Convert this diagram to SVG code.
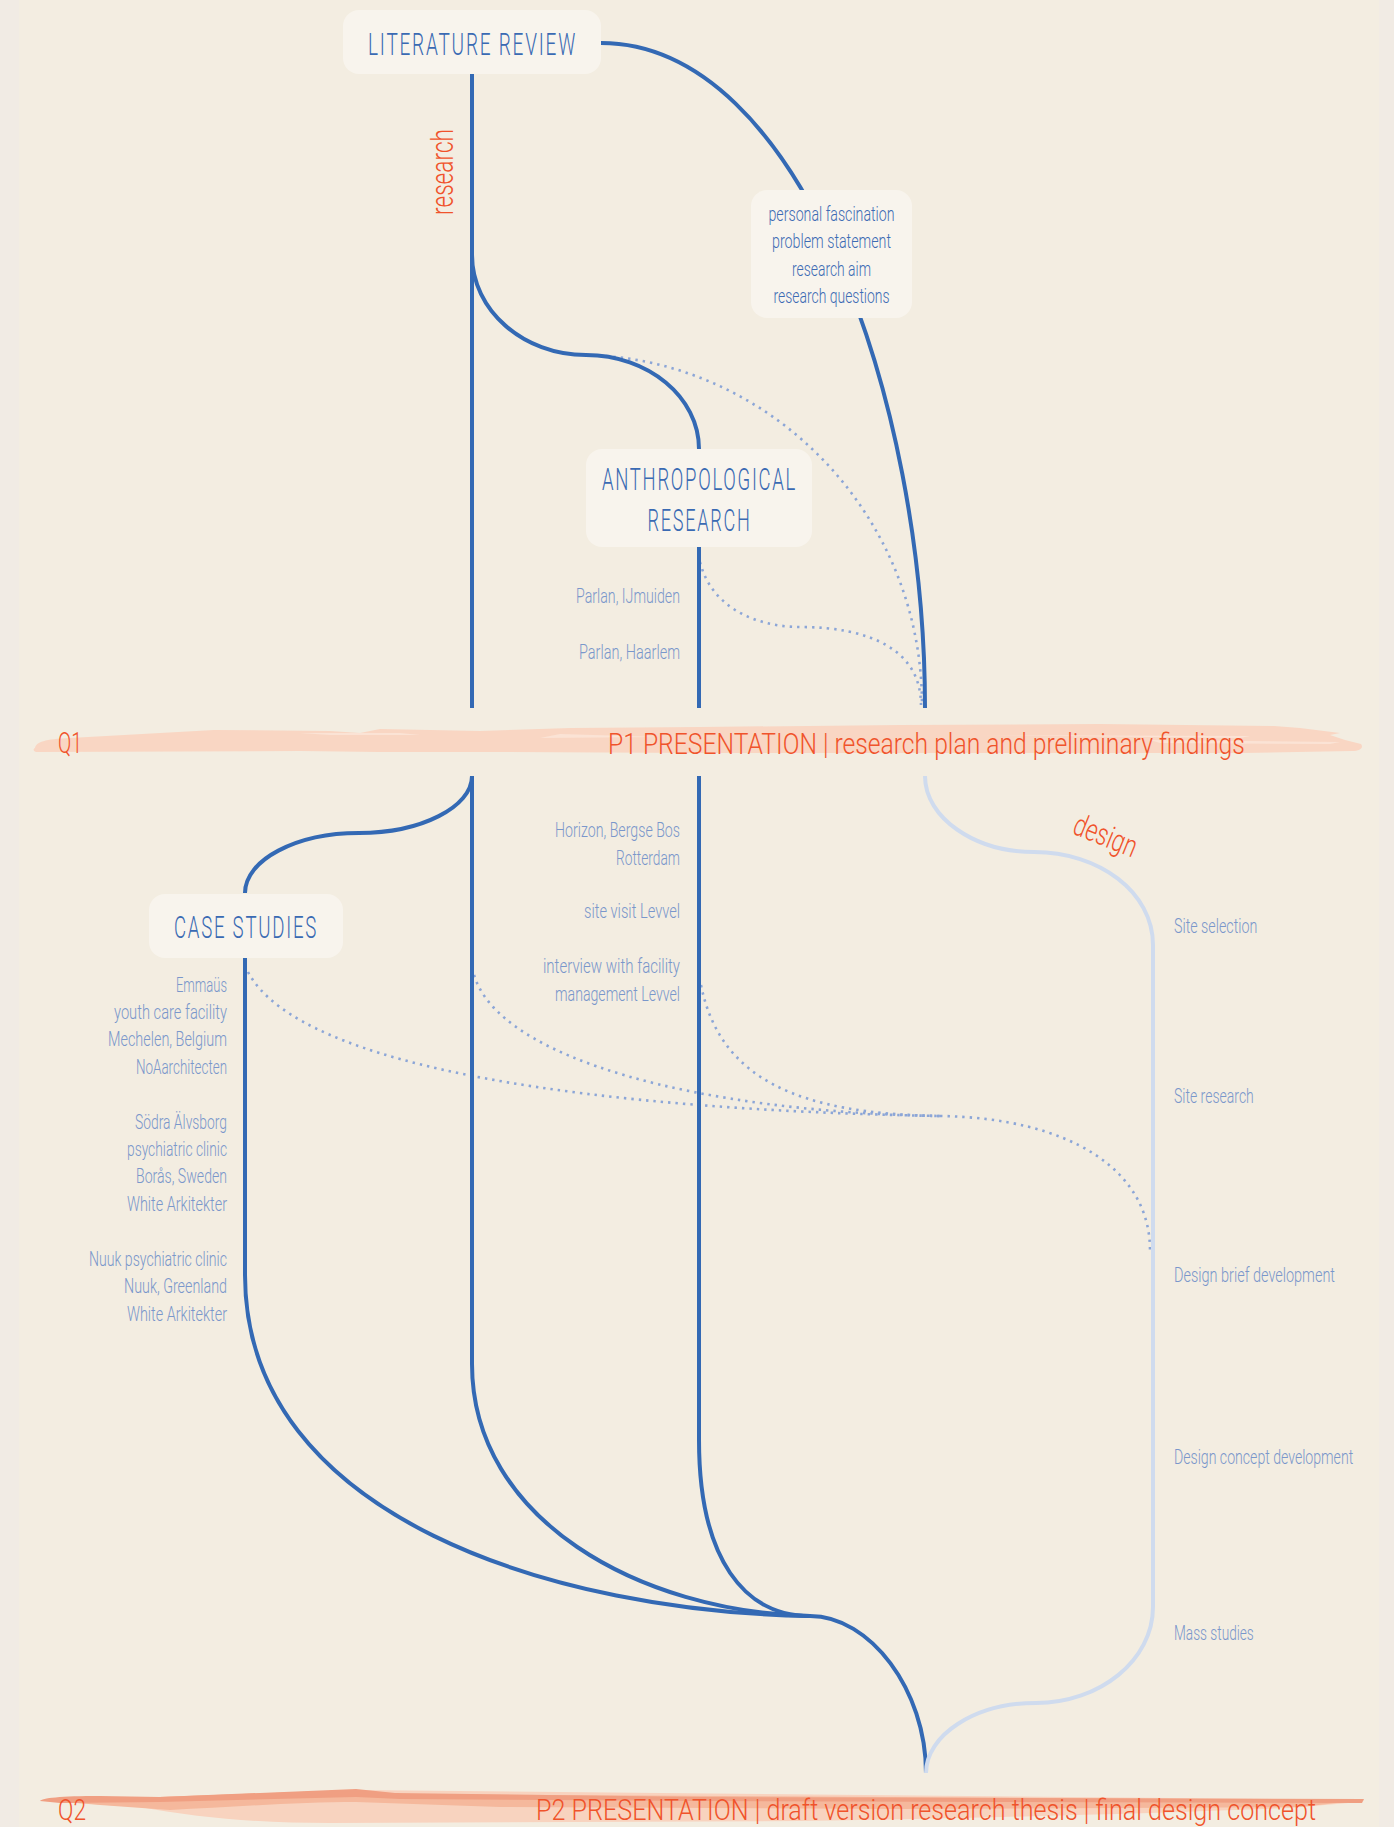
<svg xmlns="http://www.w3.org/2000/svg" width="1394" height="1827" viewBox="0 0 1394 1827">
<style>
.ln{fill:none;stroke:#3369b4;stroke-width:4}
.lt{fill:none;stroke:#cfdbee;stroke-width:4}
.dt{fill:none;stroke:#8ca6d7;stroke-width:2.6;stroke-dasharray:2.4 5}
.box{fill:#f8f4ed}
.f{font-family:Roboto,"Liberation Sans",Arial,sans-serif;font-weight:300}
.ttl{font-size:32px;fill:#3a6ab3;text-anchor:middle;letter-spacing:3px}
.pf{font-size:20px;fill:#3d6bb4;text-anchor:middle}
.lbl{font-size:21px;fill:#7a97cb}
.end{text-anchor:end}
.org{fill:#f0532b}
.q{font-size:30px}
</style>
<rect x="0" y="0" width="1394" height="1827" fill="#f1ebe4"/>
<rect x="19" y="0" width="1360" height="1827" fill="#f3ede1"/>

<g id="bands">
<path fill="#f9d6c3" d="M35,748 C36,742 45,739 70,738 L214,730 L330,731 L360,733 L380,729 L480,731 L571,728 L700,727 L900,725 L1100,724 L1274,726 L1300,728 L1340,733 L1330,735 L1345,740 L1361,744 C1364,748 1360,751 1352,751 L1243,753 L1000,753 L700,753 L490,752 L379,752 L300,751 L36,752 C33,751 33,749 35,748 Z"/>
<path fill="#fbe3d5" d="M300,733 L400,733 L420,735 L330,735 Z M560,734 L660,737 L540,738 Z M1150,740 L1340,742 L1330,744 L1160,743 Z M980,735 L1250,736 L1240,738 Z"/>
<path fill="#f8d3bf" d="M45,1801 L140,1807 C200,1818 260,1823 330,1823 L800,1821 C1000,1818 1150,1813 1290,1808 L1360,1802 L1364,1800 L356,1790 Z"/>
<path fill="#f5b89c" d="M42,1800 L160,1797 L356,1790 L400,1794 L1364,1800 L1300,1807 L900,1809 L500,1807 L356,1802 C300,1802 230,1807 170,1810 L100,1805 Z"/>
<path fill="#f09f82" d="M40,1801 C42,1798 60,1796 100,1796 L160,1797 L356,1789 L395,1793 L700,1797 L1364,1799 L1362,1803 L1000,1802 L700,1801 L400,1799 L356,1797 L160,1802 L60,1803 Z"/>
</g>

<g id="connectors">
<path class="dt" d="M606,356 C780,370 922,520 922,705"/>
<path class="dt" d="M700,562 C712,610 760,627 800,627 C870,627 921,650 921,705"/>
<path class="dt" d="M248,972 C300,1070 600,1110 940,1116"/>
<path class="dt" d="M474,975 C500,1060 700,1112 940,1116"/>
<path class="dt" d="M701,985 C720,1080 800,1114 940,1116"/>
<path class="dt" d="M940,1116 C1070,1118 1150,1170 1150,1250"/>

<path class="ln" d="M472,73 V708"/>
<path class="ln" d="M601,43 C800,43 925,400 925,708"/>
<path class="ln" d="M472,255 C472,310 523,355 586,355 C648,355 699,397 699,449"/>
<path class="ln" d="M699,547 V708"/>

<path class="ln" d="M472,776 V1364 C472,1520 640,1612 810,1616"/>
<path class="ln" d="M472,776 C472,807 421,833 359,833 C296,833 245,860 245,893"/>
<path class="ln" d="M245,958 V1275 C245,1520 560,1612 810,1616"/>
<path class="ln" d="M699,776 V1440 C699,1560 745,1616 810,1616"/>
<path class="ln" d="M810,1616 C870,1616 926,1690 926,1773"/>

<path class="lt" d="M925,776 C925,818 975,852 1034,852 C1099,852 1153,892 1153,945 V1607 C1153,1660 1100,1703 1036,1703 C975,1703 926,1735 926,1773"/>
</g>

<g id="literature-review">
<rect class="box" x="343" y="10" width="258" height="64" rx="16"/>
<text class="f ttl" x="472.5" y="55" textLength="209" lengthAdjust="spacingAndGlyphs">LITERATURE REVIEW</text>
</g>

<g id="research-label">
<text class="f org" font-size="31" transform="translate(453,215) rotate(-90)" textLength="86" lengthAdjust="spacingAndGlyphs">research</text>
</g>

<g id="research-framing">
<rect class="box" x="751" y="190" width="161" height="128" rx="16"/>
<text class="f pf" x="831.5" y="221" textLength="126" lengthAdjust="spacingAndGlyphs">personal fascination</text>
<text class="f pf" x="831.5" y="248" textLength="119" lengthAdjust="spacingAndGlyphs">problem statement</text>
<text class="f pf" x="831.5" y="276" textLength="79" lengthAdjust="spacingAndGlyphs">research aim</text>
<text class="f pf" x="831.5" y="303" textLength="116" lengthAdjust="spacingAndGlyphs">research questions</text>
</g>

<g id="anthropological-research">
<rect class="box" x="586" y="449" width="226" height="98" rx="16"/>
<text class="f ttl" x="699.5" y="490" textLength="195" lengthAdjust="spacingAndGlyphs">ANTHROPOLOGICAL</text>
<text class="f ttl" x="699.5" y="531" textLength="104" lengthAdjust="spacingAndGlyphs">RESEARCH</text>
</g>

<g id="anthro-items">
<text class="f lbl end" x="680" y="603" textLength="104" lengthAdjust="spacingAndGlyphs">Parlan, IJmuiden</text>
<text class="f lbl end" x="680" y="659" textLength="101" lengthAdjust="spacingAndGlyphs">Parlan, Haarlem</text>
<text class="f lbl end" x="680" y="837" textLength="125" lengthAdjust="spacingAndGlyphs">Horizon, Bergse Bos</text>
<text class="f lbl end" x="680" y="865" textLength="64" lengthAdjust="spacingAndGlyphs">Rotterdam</text>
<text class="f lbl end" x="680" y="918" textLength="96" lengthAdjust="spacingAndGlyphs">site visit Levvel</text>
<text class="f lbl end" x="680" y="973" textLength="137" lengthAdjust="spacingAndGlyphs">interview with facility</text>
<text class="f lbl end" x="680" y="1001" textLength="125" lengthAdjust="spacingAndGlyphs">management Levvel</text>
</g>

<g id="q1">
<text class="f org q" x="58" y="753" textLength="24" lengthAdjust="spacingAndGlyphs">Q1</text>
<text class="f org q" transform="translate(608,754) scale(0.8,1)" textLength="796" lengthAdjust="spacingAndGlyphs">P1 PRESENTATION | research plan and preliminary findings</text>
</g>

<g id="case-studies">
<rect class="box" x="149" y="894" width="194" height="64" rx="16"/>
<text class="f ttl" x="246" y="938" textLength="144" lengthAdjust="spacingAndGlyphs">CASE STUDIES</text>
</g>

<g id="case-items">
<text class="f lbl end" x="227" y="992" textLength="51" lengthAdjust="spacingAndGlyphs">Emmaüs</text>
<text class="f lbl end" x="227" y="1019" textLength="113" lengthAdjust="spacingAndGlyphs">youth care facility</text>
<text class="f lbl end" x="227" y="1046" textLength="119" lengthAdjust="spacingAndGlyphs">Mechelen, Belgium</text>
<text class="f lbl end" x="227" y="1074" textLength="91" lengthAdjust="spacingAndGlyphs">NoAarchitecten</text>
<text class="f lbl end" x="227" y="1129" textLength="92" lengthAdjust="spacingAndGlyphs">Södra Älvsborg</text>
<text class="f lbl end" x="227" y="1156" textLength="100" lengthAdjust="spacingAndGlyphs">psychiatric clinic</text>
<text class="f lbl end" x="227" y="1183" textLength="91" lengthAdjust="spacingAndGlyphs">Borås, Sweden</text>
<text class="f lbl end" x="227" y="1211" textLength="100" lengthAdjust="spacingAndGlyphs">White Arkitekter</text>
<text class="f lbl end" x="227" y="1266" textLength="138" lengthAdjust="spacingAndGlyphs">Nuuk psychiatric clinic</text>
<text class="f lbl end" x="227" y="1293" textLength="103" lengthAdjust="spacingAndGlyphs">Nuuk, Greenland</text>
<text class="f lbl end" x="227" y="1321" textLength="100" lengthAdjust="spacingAndGlyphs">White Arkitekter</text>
</g>

<g id="design-label">
<text class="f org" font-size="31" transform="translate(1071,833) rotate(22)" textLength="66" lengthAdjust="spacingAndGlyphs">design</text>
</g>

<g id="design-items">
<text class="f lbl" transform="translate(1174,933) scale(0.7,1)" textLength="119" lengthAdjust="spacingAndGlyphs">Site selection</text>
<text class="f lbl" transform="translate(1174,1103) scale(0.7,1)" textLength="114" lengthAdjust="spacingAndGlyphs">Site research</text>
<text class="f lbl" transform="translate(1174,1282) scale(0.7,1)" textLength="230" lengthAdjust="spacingAndGlyphs">Design brief development</text>
<text class="f lbl" transform="translate(1174,1464) scale(0.7,1)" textLength="256" lengthAdjust="spacingAndGlyphs">Design concept development</text>
<text class="f lbl" transform="translate(1174,1640) scale(0.7,1)" textLength="114" lengthAdjust="spacingAndGlyphs">Mass studies</text>
</g>

<g id="q2">
<text class="f org q" x="58" y="1820" textLength="28" lengthAdjust="spacingAndGlyphs">Q2</text>
<text class="f org q" transform="translate(536,1820) scale(0.75,1)" textLength="1040" lengthAdjust="spacingAndGlyphs">P2 PRESENTATION | draft version research thesis | final design concept</text>
</g>
</svg>
